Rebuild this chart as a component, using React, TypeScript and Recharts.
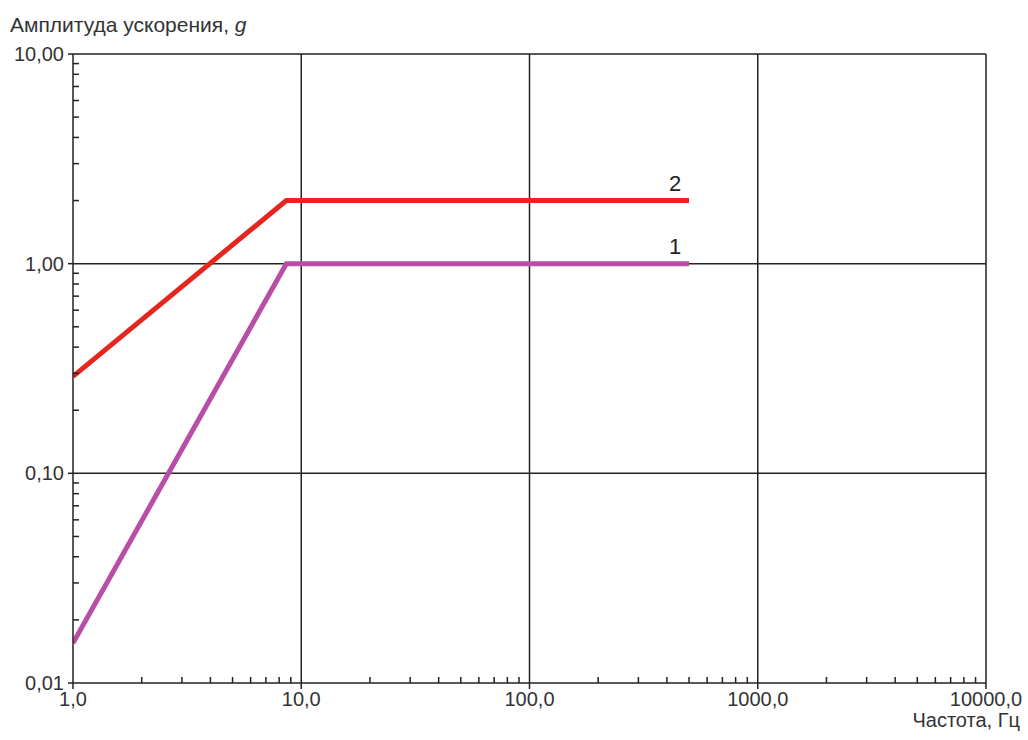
import { LineChart, Line, XAxis, YAxis, ReferenceLine } from 'recharts';

// частота, Гц
const freq = [1, 8.6, 500];
// кривая 1 и кривая 2, g
const curve1 = [0.0155, 1, 1];
const curve2 = [0.29, 2, 2];

const xMajor = [1, 10, 100, 1000, 10000];
const yMajor = [0.01, 0.1, 1, 10];
const xMinor = [
  2, 3, 4, 5, 6, 7, 8, 9,
  20, 30, 40, 50, 60, 70, 80, 90,
  200, 300, 400, 500, 600, 700, 800, 900,
  2000, 3000, 4000, 5000, 6000, 7000, 8000, 9000,
];
const yMinor = [
  0.02, 0.03, 0.04, 0.05, 0.06, 0.07, 0.08, 0.09,
  0.2, 0.3, 0.4, 0.5, 0.6, 0.7, 0.8, 0.9,
  2, 3, 4, 5, 6, 7, 8, 9,
];

const data = freq.map((f, i) => ({ f, c1: curve1[i], c2: curve2[i] }));

const FONT = '"Liberation Sans", Arial, sans-serif';
const TEXT = '#333';
const INK = '#222';
const GAP = 8; // tickSize оси: расстояние от линии оси до точки подписи

// подписи и деления оси X: большие наружу, мелкие внутрь
function XTick(props: any) {
  const { x, y, payload } = props;
  const axisY = y - GAP;
  const major = xMajor.includes(payload.value);
  return (
    <g>
      <line x1={x} x2={x} y1={axisY} y2={major ? axisY + 6 : axisY - 6} stroke={INK} strokeWidth={1.5} />
      {major && (
        <text x={x} y={axisY + 9} dy="0.71em" textAnchor="middle" fill={TEXT} fontSize={20} fontFamily={FONT}>
          {payload.value.toFixed(1).replace('.', ',')}
        </text>
      )}
    </g>
  );
}

function YTick(props: any) {
  const { x, y, payload } = props;
  const axisX = x + GAP;
  const major = yMajor.includes(payload.value);
  return (
    <g>
      <line x1={axisX} x2={major ? axisX - 5 : axisX + 6} y1={y} y2={y} stroke={INK} strokeWidth={1.5} />
      {major && (
        <text x={axisX - 9} y={y} dy="0.35em" textAnchor="end" fill={TEXT} fontSize={20} fontFamily={FONT}>
          {payload.value.toFixed(2).replace('.', ',')}
        </text>
      )}
    </g>
  );
}

function EndLabel(name: string) {
  return (props: any) => {
    const { x, y, index } = props;
    if (index !== data.length - 1) return null;
    return (
      <text x={x - 14} y={y - 10} fill={INK} fontSize={22} fontFamily={FONT} textAnchor="middle">
        {name}
      </text>
    );
  };
}

export default function App() {
  const grid = { stroke: INK, strokeWidth: 1.5, ifOverflow: 'extendDomain' as const };
  return (
    <div style={{ position: 'absolute', left: 0, top: 0, width: 1028, height: 740, background: '#fff' }}>
      <div style={{ position: 'absolute', left: 10, top: 13, fontFamily: FONT, fontSize: 21, color: TEXT }}>
        Амплитуда ускорения, <i>g</i>
      </div>
      <div style={{ position: 'absolute', right: 8, top: 709, fontFamily: FONT, fontSize: 20, color: TEXT }}>
        Частота, Гц
      </div>
      <LineChart width={1028} height={740} data={data} margin={{ top: 54, right: 42, left: 13, bottom: 27 }}>
        {xMajor.slice(1).map(v => <ReferenceLine key={`x${v}`} x={v} {...grid} />)}
        {yMajor.slice(1).map(v => <ReferenceLine key={`y${v}`} y={v} {...grid} />)}
        <XAxis
          dataKey="f" type="number" scale="log" domain={[1, 10000]} ticks={[...xMajor, ...xMinor]}
          tick={<XTick />} tickLine={false} tickSize={GAP} tickMargin={0} height={30}
          axisLine={{ stroke: INK, strokeWidth: 1.5 }} interval={0} allowDataOverflow
        />
        <YAxis
          type="number" scale="log" domain={[0.01, 10]} ticks={[...yMajor, ...yMinor]}
          tick={<YTick />} tickLine={false} tickSize={GAP} tickMargin={0} width={60}
          axisLine={{ stroke: INK, strokeWidth: 1.5 }} interval={0} allowDataOverflow
        />
        <Line
          dataKey="c1" type="linear" stroke="#b84ea6" strokeWidth={5} dot={false}
          isAnimationActive={false} label={EndLabel('1')}
        />
        <Line
          dataKey="c2" type="linear" stroke="#e5261f" strokeWidth={5} dot={false}
          isAnimationActive={false} label={EndLabel('2')}
        />
      </LineChart>
    </div>
  );
}
